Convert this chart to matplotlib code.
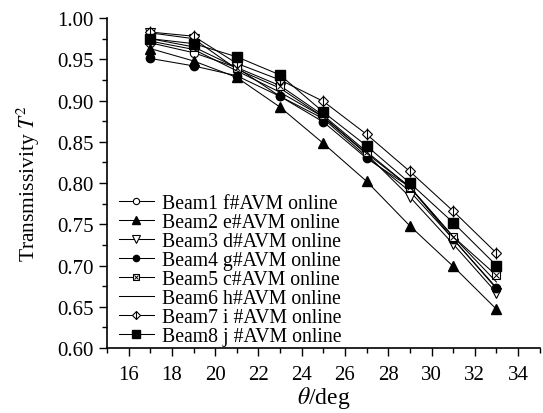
import matplotlib
matplotlib.use("Agg")
import matplotlib.pyplot as plt
from matplotlib.legend_handler import HandlerTuple

plt.rcParams['font.family'] = ['Liberation Serif', 'DejaVu Serif']
plt.rcParams['mathtext.fontset'] = 'stix'

# Data sudut (deg) dan transmisivitas tiap beam
theta = [17, 19, 21, 23, 25, 27, 29, 31, 33]
beam1 = [0.970, 0.958, 0.940, 0.905, 0.878, 0.832, 0.790, 0.732, 0.672]
beam2 = [0.963, 0.948, 0.928, 0.892, 0.848, 0.802, 0.748, 0.699, 0.647]
beam3 = [0.982, 0.975, 0.938, 0.915, 0.880, 0.835, 0.783, 0.726, 0.667]
beam4 = [0.951, 0.942, 0.930, 0.905, 0.874, 0.830, 0.795, 0.732, 0.673]
beam5 = [0.975, 0.965, 0.940, 0.918, 0.882, 0.838, 0.795, 0.735, 0.688]
beam6 = [0.972, 0.962, 0.936, 0.910, 0.880, 0.836, 0.795, 0.735, 0.680]
beam7 = [0.983, 0.978, 0.945, 0.925, 0.899, 0.859, 0.814, 0.766, 0.715]
beam8 = [0.975, 0.969, 0.953, 0.931, 0.886, 0.845, 0.800, 0.752, 0.700]
labels = ["Beam1 f#AVM online", "Beam2 e#AVM online", "Beam3 d#AVM online",
          "Beam4 g#AVM online", "Beam5 c#AVM online", "Beam6 h#AVM online",
          "Beam7 i #AVM online", "Beam8 j #AVM online"]

fig = plt.figure(figsize=(5.43, 4.14), dpi=100)
ax = fig.add_axes([0.197, 0.157, 0.797, 0.797])

lw = 0.75
ms = 6
k = 'black'
h1, = ax.plot(theta, beam1, color=k, lw=lw, marker='o', ms=ms, mfc='white', mec=k, mew=0.8)
h2, = ax.plot(theta, beam2, color=k, lw=lw, marker='^', ms=ms + 1, mfc=k, mec=k)
h3, = ax.plot(theta, beam3, color=k, lw=lw, marker='v', ms=ms + 1, mfc='white', mec=k, mew=0.8)
h4, = ax.plot(theta, beam4, color=k, lw=lw, marker='o', ms=ms, mfc=k, mec=k)
h5, = ax.plot(theta, beam5, color=k, lw=lw, marker='s', ms=ms, mfc='white', mec=k, mew=0.8)
h5x, = ax.plot(theta, beam5, ls='none', marker='x', ms=ms - 2, mec=k, mew=0.7)
h6, = ax.plot(theta, beam6, color=k, lw=lw)
h7, = ax.plot(theta, beam7, color=k, lw=lw, marker='D', ms=ms - 1, mfc='white', mec=k, mew=0.8)
h7b, = ax.plot(theta, beam7, ls='none', marker='|', ms=ms + 2, mec=k, mew=0.8)
h8, = ax.plot(theta, beam8, color=k, lw=lw, marker='s', ms=ms + 1, mfc=k, mec=k)

handles = [h1, h2, h3, h4, (h5, h5x), h6, (h7, h7b), h8]
ax.legend(handles, labels, loc='lower left', bbox_to_anchor=(-0.005, -0.035),
          frameon=False, fontsize=14.2, handlelength=1.8, handletextpad=0.4,
          labelspacing=0.0, borderaxespad=0.3, markerscale=0.75,
          handler_map={tuple: HandlerTuple(ndivide=1)})

ax.set_xlim(15, 35)
ax.set_ylim(0.60, 1.00)
ax.set_xticks(range(16, 35, 2))
ax.set_xticks(range(15, 36, 1), minor=True)
ax.set_yticks([0.60, 0.65, 0.70, 0.75, 0.80, 0.85, 0.90, 0.95, 1.00])
ax.set_yticks([0.60 + 0.025 * i for i in range(17)], minor=True)
ax.set_yticklabels([f"{v:.2f}" for v in ax.get_yticks()])
ax.tick_params(axis='both', which='major', direction='out', length=6, width=1, labelsize=15)
ax.tick_params(axis='x', which='major', pad=6)
ax.tick_params(axis='both', which='minor', direction='out', length=3.5, width=1)
for s in ['top', 'right']:
    ax.spines[s].set_visible(False)
for s in ['left', 'bottom']:
    ax.spines[s].set_linewidth(1.2)

ax.set_xlabel(r"$\theta$/deg", fontsize=17, labelpad=0)
ax.set_ylabel(r"Transmissivity $T^2$", fontsize=15.5, labelpad=11)

plt.savefig("out.png", dpi=100)
plt.close()
